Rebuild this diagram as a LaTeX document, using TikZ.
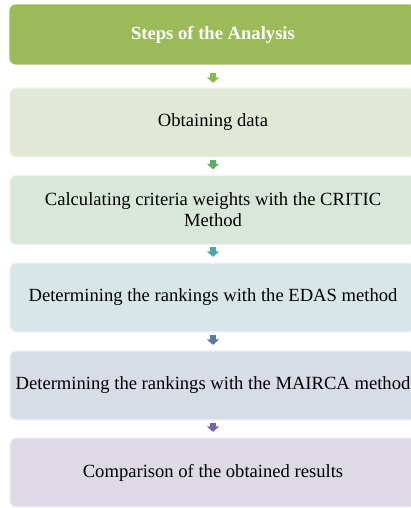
\documentclass[tikz,border=0pt]{standalone}
\usepackage{fontspec}
\setmainfont{Liberation Serif}
\usetikzlibrary{arrows.meta}

\definecolor{hdgreen}{HTML}{9BBB59}
\definecolor{boxA}{HTML}{E1E9D6}
\definecolor{boxB}{HTML}{D9E7DA}
\definecolor{boxC}{HTML}{D7E6E6}
\definecolor{boxD}{HTML}{D8DCE6}
\definecolor{boxE}{HTML}{DDD9E5}
\definecolor{arrA}{HTML}{8DB950}
\definecolor{arrB}{HTML}{5BB25C}
\definecolor{arrC}{HTML}{4CA7A6}
\definecolor{arrD}{HTML}{5878B0}
\definecolor{arrE}{HTML}{7D62A8}

\tikzset{
  stepbox/.style={rectangle, rounded corners=6pt, minimum width=406pt, minimum height=69pt,
    inner sep=0pt, line width=1.2pt, align=center, font=\fontsize{18.6}{21}\selectfont},
  steparrow/.style={line width=6.5pt, -{Triangle[width=12pt,length=5.5pt]}, shorten <=2pt, shorten >=5.5pt}
}

\begin{document}
\begin{tikzpicture}[x=1pt,y=1pt]
\clip (0,0) rectangle (411,-508);
\node[stepbox, fill=hdgreen, draw=hdgreen, minimum height=59pt, text=white,
  font=\bfseries\fontsize{18.6}{21}\selectfont] (S0) at (213,-34.5) {Steps of the Analysis};
\node[stepbox, fill=boxA, draw=boxA!40!white] (S1) at (213,-122.5) {Obtaining data};
\node[stepbox, fill=boxB, draw=boxB!40!white] (S2) at (213,-210) {Calculating criteria weights with the CRITIC\\Method};
\node[stepbox, fill=boxC, draw=boxC!40!white] (S3) at (213,-297.5) {Determining the rankings with the EDAS method};
\node[stepbox, fill=boxD, draw=boxD!40!white] (S4) at (213,-385.5) {Determining the rankings with the MAIRCA method};
\node[stepbox, fill=boxE, draw=boxE!40!white] (S5) at (213,-472.5) {Comparison of the obtained results};

\path[steparrow] (S0) edge[draw=arrA, shorten <=8.5pt, shorten >=4.5pt] (S1);
\path[steparrow] (S1) edge[draw=arrB] (S2) (S2) edge[draw=arrC] (S3);
\path[steparrow] (S3) edge[draw=arrD] (S4) (S4) edge[draw=arrE] (S5);
\end{tikzpicture}
\end{document}
